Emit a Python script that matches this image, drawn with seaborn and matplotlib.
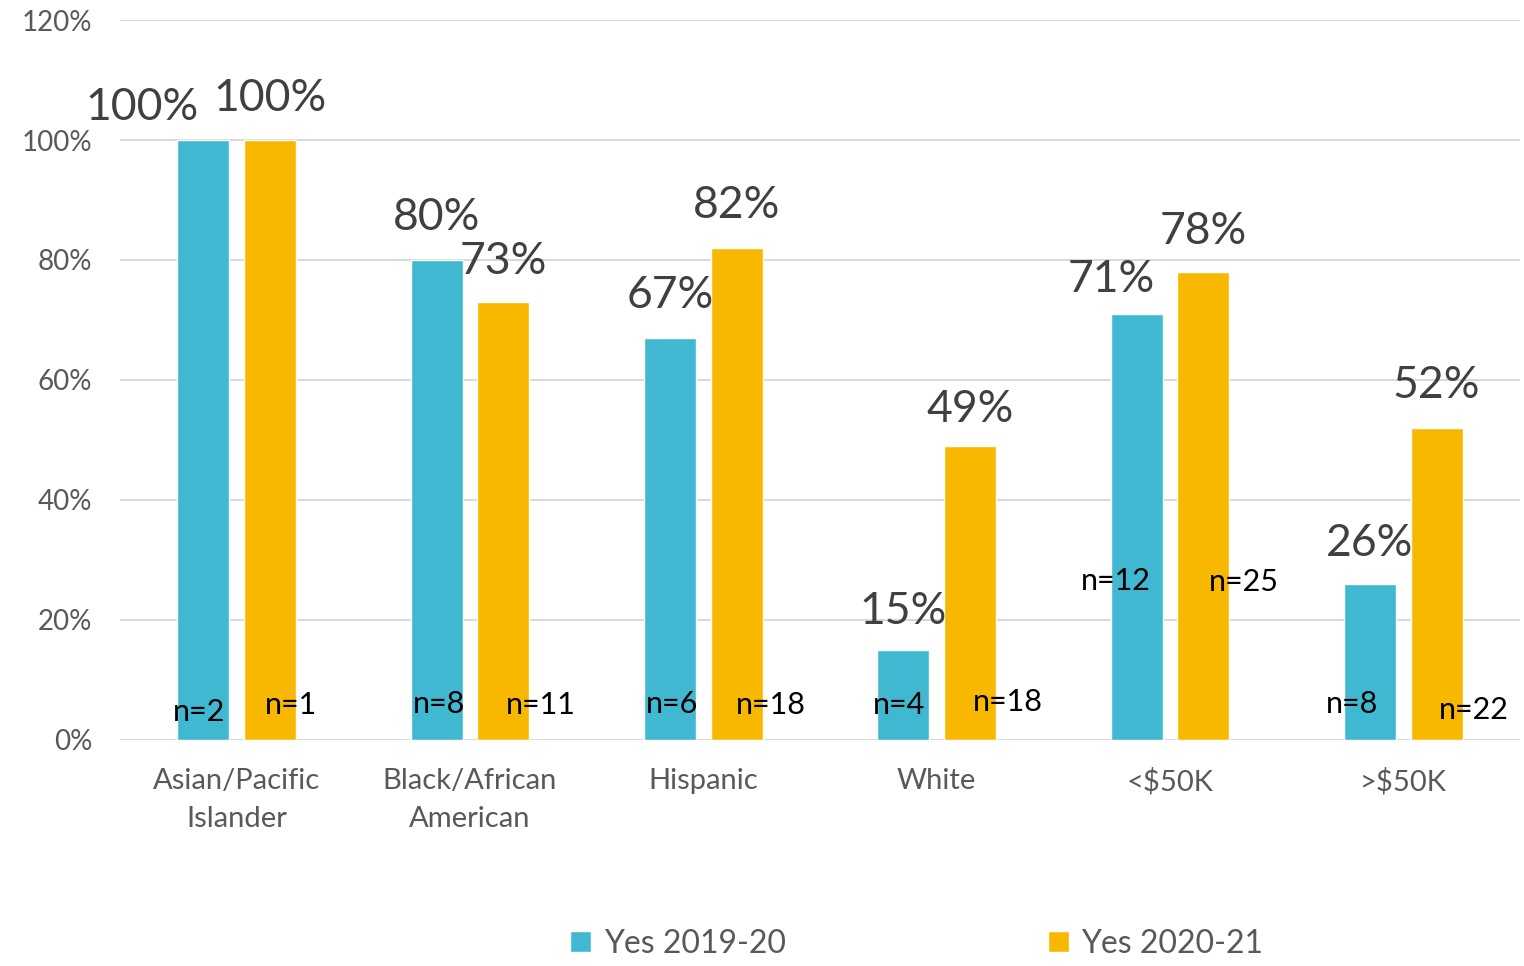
import matplotlib.pyplot as plt
import numpy as np
import pandas as pd
import seaborn as sns

categories = ['Asian/Pacific\nIslander', 'Black/African\nAmerican', 'Hispanic', 'White', '<$50K', '>$50K']
series = ['Yes 2019-20', 'Yes 2020-21']
yes_2019 = [100, 80, 67, 15, 71, 26]
yes_2020 = [100, 73, 82, 49, 78, 52]
n_2019 = [2, 8, 6, 4, 12, 8]
n_2020 = [1, 11, 18, 18, 25, 22]

_COLORS = ['#40B8D2', '#F9B800']
_FONT = ['Lato', 'DejaVu Sans']

# label placement tweaks (pixels), the reference has a few hand-moved labels
val_dx = [[-61, 0, 0, 0, -25, 0], [0, 0, 0, 0, 0, 0]]
val_dy = [[33, 42, 42, 38, 35, 41], [42, 40, 42, 36, 40, 42]]
n_dx = [[-4, 2, 2, -4, -21, -18], [21, 37, 34, 38, 41, 37]]
n_y = [[4.7, 6.0, 6.0, 5.8, 26.5, 6.0], [5.8, 5.8, 5.8, 6.3, 26.3, 5.0]]

df = pd.DataFrame({
    'Group': categories * 2,
    'Series': [series[0]] * len(categories) + [series[1]] * len(categories),
    'Value': yes_2019 + yes_2020,
})

sns.set_style('white')
plt.rcParams['font.family'] = _FONT

fig = plt.figure(figsize=(15.24, 9.66), dpi=100)
ax = fig.add_axes([120 / 1524, 226 / 966, 1400 / 1524, 720 / 966])

sns.barplot(df, x='Group', y='Value', hue='Series', palette=_COLORS,
            width=0.572, gap=0.22, saturation=1, ax=ax)

ax.set_ylim(0, 120)
ax.set_xlim(-0.5, len(categories) - 0.5)
ax.set_yticks(np.arange(0, 121, 20))
ax.set_yticklabels([f'{v}%' for v in range(0, 121, 20)])
ax.yaxis.grid(True, color='#D9D9D9', linewidth=1.5)
ax.set_axisbelow(True)
for s in ax.spines.values():
    s.set_visible(False)
ax.tick_params(axis='y', length=0, pad=20, labelsize=20, labelcolor='#595959')
ax.tick_params(axis='x', length=0, pad=20, labelsize=21, labelcolor='#595959')
for t in ax.get_xticklabels():
    t.set_linespacing(1.6)
ax.set_xlabel('')
ax.set_ylabel('')

n_vals = [n_2019, n_2020]
for k, cont in enumerate(ax.containers):
    for i, p in enumerate(cont.patches):
        cx = p.get_x() + p.get_width() / 2
        top = p.get_height()
        ax.annotate(f'{top:.0f}%', (cx, top), xytext=(val_dx[k][i], val_dy[k][i]),
                    textcoords='offset pixels', ha='center', va='center',
                    fontsize=32, color='#404040')
        ax.annotate(f'n={n_vals[k][i]}', (cx, n_y[k][i]), xytext=(n_dx[k][i], 0),
                    textcoords='offset pixels', ha='center', va='center',
                    fontsize=22, color='black')

handles, labels = ax.get_legend_handles_labels()
ax.get_legend().remove()
leg = fig.legend(handles, labels, loc='center', bbox_to_anchor=(917 / 1524, 1 - 944 / 966),
                 ncol=2, frameon=False, fontsize=23, handlelength=0.65, handleheight=0.65,
                 handletextpad=0.4, columnspacing=8.2)
for t in leg.get_texts():
    t.set_color('#595959')

fig.savefig('out.png', dpi=100)
